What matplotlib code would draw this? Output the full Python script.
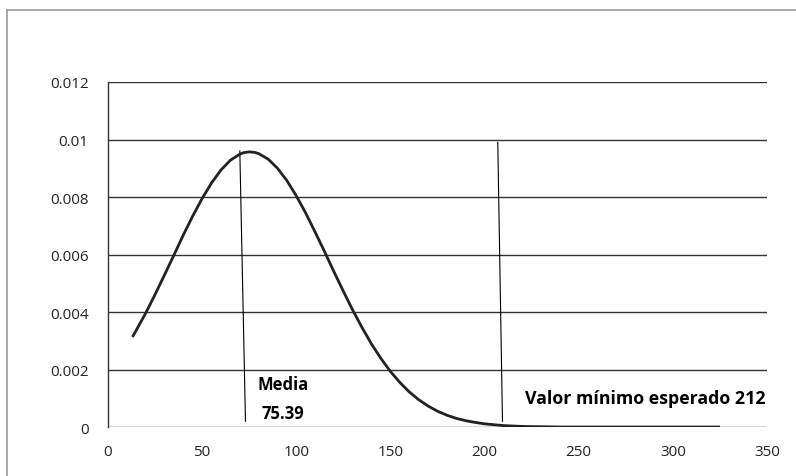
import matplotlib.pyplot as plt
from matplotlib.lines import Line2D

# curve values (x, density)
x_vals = [13, 20, 25, 30, 35, 40, 45, 50, 55, 60, 65, 70, 72, 75, 78, 80, 85,
          90, 95, 100, 105, 110, 115, 120, 125, 130, 135, 140, 145, 150, 155,
          160, 165, 170, 175, 180, 185, 190, 195, 200, 210, 220, 240, 260,
          280, 300, 325]
y_vals = [0.00313, 0.00396, 0.00461, 0.00529, 0.00598, 0.00668, 0.00734,
          0.00795, 0.00849, 0.00894, 0.00928, 0.00949, 0.00954, 0.00957,
          0.00955, 0.00951, 0.00932, 0.00900, 0.00857, 0.00804, 0.00744,
          0.00678, 0.00610, 0.00540, 0.00472, 0.00406, 0.00345, 0.00288,
          0.00238, 0.00193, 0.00155, 0.00122, 0.00095, 0.00073, 0.00055,
          0.00041, 0.00030, 0.00022, 0.00016, 0.00011, 0.00005, 0.00002,
          0.0, 0.0, 0.0, 0.0, 0.0]

# reference lines (as drawn, slightly slanted)
media_x = [70, 73]
media_y = [0.0096, 0.0002]
minimo_x = [207, 209.5]
minimo_y = [0.0099, 0.0002]

x_ticks = [0, 50, 100, 150, 200, 250, 300, 350]
y_ticks = [0, 0.002, 0.004, 0.006, 0.008, 0.01, 0.012]
y_labels = ["0", "0.002", "0.004", "0.006", "0.008", "0.01", "0.012"]

plt.rcParams["font.family"] = ["Open Sans", "DejaVu Sans"]

fig = plt.figure(figsize=(7.96, 4.77), dpi=100)
ax = fig.add_axes([0.1357, 0.1027, 0.8279, 0.7233])

# chart frame (only top and left edges visible)
fig.add_artist(Line2D([0.0088, 1.0], [0.977, 0.977], transform=fig.transFigure,
                      color="#9a9a9a", lw=1.2))
fig.add_artist(Line2D([0.0088, 0.0088], [0.977, 0.0], transform=fig.transFigure,
                      color="#9a9a9a", lw=1.2))

for yt in y_ticks:
    ax.axhline(yt, color="#333333", lw=1.0, zorder=1)

ax.plot(x_vals, y_vals, color="#222222", lw=2.0, zorder=3,
        solid_capstyle="butt", solid_joinstyle="round")
ax.plot(media_x, media_y, color="black", lw=0.8, zorder=2)
ax.plot(minimo_x, minimo_y, color="black", lw=0.8, zorder=2)

ax.text(93, 0.00100, "Media\n75.39", ha="center", va="center",
        fontsize=12, fontweight="bold", linespacing=1.75, zorder=4,
        bbox={"facecolor": "white", "edgecolor": "none", "pad": 2})
ax.text(221.5, 0.00101, "Valor mínimo esperado 212", ha="left", va="center",
        fontsize=12.8, fontweight="bold", zorder=4,
        bbox={"facecolor": "white", "edgecolor": "none", "pad": 2})

ax.set_xlim(0, 350)
ax.set_ylim(0, 0.012)
ax.set_xticks(x_ticks)
ax.set_xticklabels([str(t) for t in x_ticks])
ax.set_yticks(y_ticks)
ax.set_yticklabels(y_labels)
ax.tick_params(length=0, labelsize=11, colors="#222222")
ax.tick_params(axis="y", pad=14)
ax.tick_params(axis="x", pad=12)

for side in ["top", "right", "bottom"]:
    ax.spines[side].set_visible(False)
ax.spines["left"].set_color("#333333")
ax.spines["left"].set_linewidth(1.0)

fig.savefig("out.png", dpi=100)
